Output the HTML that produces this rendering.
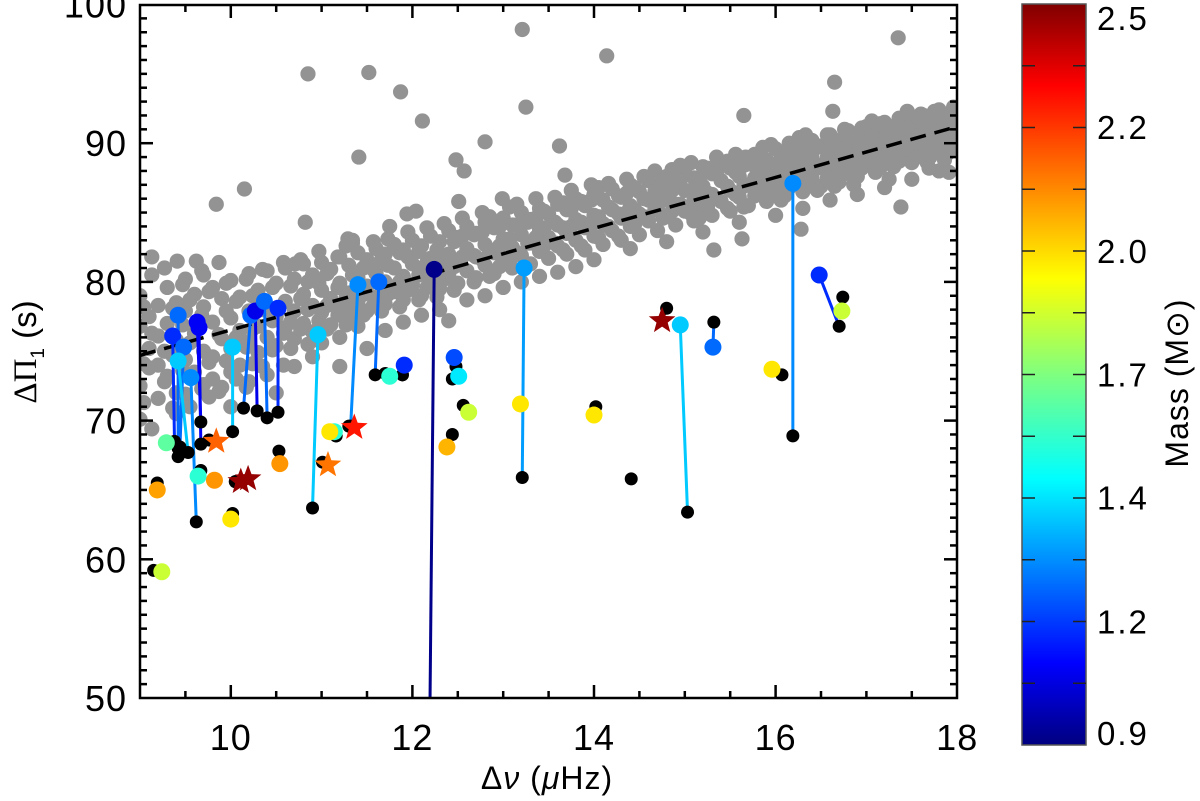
<!DOCTYPE html>
<html><head><meta charset="utf-8">
<style>
html,body{margin:0;padding:0;background:#fff;overflow:hidden;width:1200px;height:801px;}
svg{display:block;font-family:"Liberation Sans","DejaVu Sans",sans-serif;}
</style></head>
<body>
<svg id="chart" width="1200" height="801" viewBox="0 0 1200 801" xmlns="http://www.w3.org/2000/svg">
<defs>
<clipPath id="plotclip"><rect x="140" y="5" width="817" height="693"/></clipPath>
<linearGradient id="jetgrad" x1="0" y1="1" x2="0" y2="0">
<stop offset="0" stop-color="#000080"/><stop offset="0.11" stop-color="#0000ff"/><stop offset="0.36" stop-color="#00ffff"/><stop offset="0.5" stop-color="#7fff7f"/><stop offset="0.63" stop-color="#ffff00"/><stop offset="0.89" stop-color="#ff0000"/><stop offset="1" stop-color="#800000"/>
</linearGradient>
</defs>
<g id="plot" clip-path="url(#plotclip)"></g>
<g id="axes"></g>
<text x="547" y="789" text-anchor="middle" font-size="32" letter-spacing="1">Δ<tspan font-style="italic">ν</tspan> (<tspan font-style="italic">μ</tspan>Hz)</text>
<text transform="translate(36,352) rotate(-90)" text-anchor="middle" font-size="33"><tspan font-family="Liberation Serif,serif">ΔΠ</tspan><tspan font-size="19" dy="8">1</tspan><tspan dy="-8"> (s)</tspan></text>
<g id="cbar">
<rect x="1022" y="4" width="64" height="741" fill="url(#jetgrad)" stroke="#555" stroke-width="1.5"/>
</g>
<text transform="translate(1188,383) rotate(-90)" text-anchor="middle" font-size="32" letter-spacing="1">Mass (M<tspan font-family="DejaVu Sans,sans-serif">⊙</tspan>)</text>
</svg>
<script>
const xTicks=[10,12,14,16,18];
const yTicks=[50,60,70,80,90,100];
const cbTickVals=[0.933,1.2,1.467,1.733,2.0,2.267,2.533];
const cbTickLabels=["0.9","1.2","1.4","1.7","2.0","2.2","2.5"];
const lineX=[9,18];
const lineY=[74.7,91.2];
const greyX=[9.0,9.1,9.2,9.3,9.4,9.5,9.6,9.7,9.8,9.9,10.0,10.1,10.2,10.3,10.4,10.5,10.6,10.7,10.8,10.9,11.0,11.1,11.2,11.3,11.4,11.5,11.6,11.7,11.8,11.9,12.0,12.1,12.2,12.3,12.4,12.5,12.6,12.7,12.8,12.9,13.0,13.1,13.2,13.3,13.4,13.5,13.6,13.7,13.8,13.9,14.0,14.1,14.2,14.3,14.4,14.5,14.6,14.7,14.8,14.9,15.0,15.1,15.2,15.3,15.4,15.5,15.6,15.7,15.8,15.9,16.0,16.1,16.2,16.3,16.4,16.5,16.6,16.7,16.8,16.9,17.0,17.1,17.2,17.3,17.4,17.5,17.6,17.7,17.8,17.9,18.0];
const greyY=[[72.5,76.8,79.0,70.1],[73.8,77.5,75.2],[71.6,76.1,78.3,74.0],[73.2,77.0,79.6],[75.8,72.0,78.5,70.5],[74.4,77.9,80.2,71.9],[76.3,73.5,79.1],[75.0,78.2,72.6,80.5],[77.1,74.6,79.6,73.0],[75.9,78.8,72.4],[77.4,75.2,80.1,73.5,71.0],[76.5,78.9,74.0],[77.9,75.7,80.6,72.8],[76.8,79.4,74.9],[78.2,76.0,80.8,73.3],[77.5,79.9,75.4,72.0],[78.6,76.7,81.0],[77.9,80.2,75.9,73.9],[79.1,77.0,81.3],[78.3,80.5,76.4,74.6],[79.4,77.8,81.4,75.6],[78.8,80.9,76.9],[79.9,78.1,81.8,76.0,73.9],[79.2,81.2,77.5],[80.3,78.6,82.1,76.8],[79.7,81.6,77.9,75.2],[80.6,78.9,82.4],[80.0,82.0,78.4,76.5],[81.0,79.3,82.7],[80.4,82.3,78.7,77.1],[81.3,79.8,83.0],[80.7,82.6,79.0,77.6],[81.7,80.2,83.3],[81.1,82.9,79.5,78.0],[82.0,80.5,83.7,77.2],[81.4,83.2,79.9],[82.4,80.8,84.0,78.7],[81.8,83.5,80.3],[82.7,81.2,84.3,79.0],[82.1,83.9,80.6],[83.1,81.5,84.6,79.6],[82.5,84.1,81.0],[83.4,81.9,85.0,80.0],[82.8,84.5,81.3],[83.8,82.2,85.3,80.4],[83.2,84.9,81.7],[84.1,82.6,85.6,80.7],[83.5,85.2,82.0],[84.5,83.0,86.0,81.1],[83.9,85.5,82.3],[84.8,83.3,86.3,81.6],[84.2,85.9,82.7],[85.2,83.7,86.7],[84.6,86.1,83.0],[85.5,84.0,87.0,82.4],[84.9,86.5,83.4],[85.9,84.4,87.3],[85.2,86.8,83.7],[86.2,84.7,87.6,82.9],[85.6,87.2,84.1],[86.6,85.1,87.9],[85.9,87.5,84.4],[86.9,85.4,88.3,83.6],[86.3,87.8,84.8],[87.3,85.8,88.6],[86.6,88.2,85.1],[87.6,86.1,88.9,84.3],[87.0,88.5,85.5],[88.0,86.5,89.2],[87.3,88.8,85.8],[88.3,86.8,89.6,84.8],[87.7,89.2,86.2],[88.6,87.2,89.9],[88.0,89.5,86.5,85.3],[89.0,87.5,90.2],[88.4,89.8,86.9],[89.3,87.9,90.6,85.9],[88.7,90.2,87.2],[89.7,88.2,90.9],[89.0,90.5,87.6,86.3],[90.0,88.6,91.2],[89.4,90.8,87.9],[90.3,88.9,91.5,86.8],[89.7,91.2,88.3],[90.7,89.3,91.8],[90.1,91.5,88.6,87.4],[91.0,89.6,92.1],[90.4,91.8,89.0],[91.4,90.0,92.4,88.0],[90.8,92.1,89.3],[91.7,90.3]];
const grey2X=[9.04,9.13,9.27,9.36,9.47,9.55,9.68,9.76,9.87,9.95,10.06,10.17,10.24,10.35,10.46,10.58,10.66,10.77,10.85,10.97,11.06,11.18,11.27,11.34,11.46,11.57,11.66,11.73,11.86,11.95,12.07,12.16,12.27,12.35,12.46,12.55,12.68,12.77,12.85,12.96,13.07,13.15,13.27,13.36,13.45,13.57,13.66,13.75,13.86,13.97,14.05,14.16,14.27,14.36,14.45,14.55,14.67,14.76,14.86,14.95,15.07,15.16,15.25,15.35,15.47,15.56,15.65,15.77,15.86,15.95,16.06,16.15,16.26,16.35,16.46,16.57,16.65,16.76,16.86,16.95,17.06,17.15,17.25,17.36,17.45,17.56,17.67,17.75,17.86,17.96];
const grey2Y=[[74.1,78.2,71.3],[69.4,80.5,76.3],[75.0,72.8,81.0],[78.1,70.9,74.7],[73.6,76.9,79.8],[71.0,75.6,78.7],[77.6,72.3,80.8],[74.2,79.3,71.7],[76.2,72.1,81.4],[77.9,74.3,79.9],[73.0,78.6,76.0],[75.3,80.2,72.4],[76.6,79.0,74.1],[78.0,73.9,80.9],[75.1,79.6,77.2],[76.3,81.4,74.0],[79.7,77.1,75.2],[76.6,81.6,78.8],[78.0,80.0,75.5],[77.2,79.9,82.2],[80.6,78.3,76.6],[77.6,81.8,79.6],[78.9,82.6,76.9],[80.5,78.3,83.0],[79.1,81.0,77.6],[80.9,78.3,82.9],[81.6,79.7,77.9],[79.1,83.1,81.2],[80.0,82.1,78.2],[81.8,79.4,83.6],[80.5,82.2,78.7],[81.4,83.9,79.6],[82.3,80.8,78.9],[81.7,84.2,80.2],[82.9,81.1,79.4],[81.8,84.6,83.3],[81.9,83.4,80.0],[83.6,81.6,85.0],[82.2,84.7,80.4],[84.0,82.6,81.1],[83.1,85.4,81.5],[84.1,82.1,85.6],[82.8,84.3,81.2],[84.6,83.2,86.0],[85.1,82.6,83.9],[84.3,86.1,82.8],[83.9,85.7,82.3],[85.3,84.0,86.6],[84.3,85.8,82.6],[85.9,84.1,87.0],[84.7,86.8,83.2],[85.4,87.1,84.0],[84.9,86.2,83.3],[86.4,85.0,87.4],[85.2,86.8,84.2],[86.0,87.6,84.7],[86.5,85.2,88.0],[85.9,87.3,84.6],[86.6,88.1,85.1],[87.3,85.6,88.4],[86.6,84.9,88.6],[87.4,86.0,84.6],[86.4,88.2,85.4],[87.8,86.0,89.0],[86.9,88.7,85.3],[87.9,86.3,89.2],[88.4,86.9,85.4],[87.5,89.2,86.2],[88.6,87.0,89.7],[88.1,86.5,89.9],[89.0,87.4,85.9],[88.3,90.0,86.8],[89.3,87.6,90.4],[88.6,90.1,86.9],[89.7,88.2,86.6],[89.0,90.6,87.5],[89.9,88.5,86.9],[89.4,91.0,87.8],[90.2,88.8,87.0],[89.6,91.1,88.2],[90.5,89.0,91.6],[89.9,91.4,88.2],[90.8,89.4,87.4],[90.3,91.8,88.7],[91.1,89.6,92.3],[90.5,89.0,91.9],[91.3,90.0,88.6],[90.8,92.3,89.4],[91.6,90.1,88.8],[91.2,89.6,92.6]];
const outX=[13.21,17.35,14.14,10.85,11.52,11.87,13.25,12.11,15.65,16.65,16.63,17.63,12.80,13.62,11.41,12.48,12.57,13.68,15.67,16.33,10.15,9.84,12.99,12.51,13.73,10.82,12.04,11.94,11.75,11.29,11.34,17.38,17.69,17.91,15.63,15.32,16.28,9.13,9.41,9.62,10.71];
const outY=[98.2,97.6,96.3,95.0,95.1,93.7,92.6,91.6,92.0,94.4,92.3,92.0,90.1,89.8,89.0,88.8,88.0,87.7,89.0,90.6,86.7,85.6,86.0,85.8,85.6,84.3,85.1,84.9,84.0,83.1,82.8,85.4,88.2,87.9,83.1,82.3,83.8,81.8,81.5,81.5,81.3];
const colX=[9.42,9.36,9.48,9.42,9.63,9.65,9.56,10.02,10.22,10.27,10.37,10.52,10.96,11.40,11.63,12.24,9.29,9.84,9.64,9.82,10.11,10.19,10.54,10.0,9.19,9.24,11.07,11.14,11.09,11.36,11.75,11.91,12.46,12.51,12.62,12.38,13.23,13.19,14.0,14.75,14.95,15.31,15.96,16.19,16.48,16.73];
const colY=[77.6,76.1,75.3,74.3,77.1,76.7,73.1,75.3,77.6,77.9,78.6,78.1,76.2,79.8,80.0,80.9,68.4,68.5,66.0,65.7,65.6,65.8,66.9,62.9,65.0,59.1,66.8,69.2,69.2,69.5,73.2,74.0,74.55,73.2,70.6,68.1,81.0,71.2,70.4,77.2,76.9,75.3,73.7,87.1,80.5,77.9];
const blkX=[9.42,9.38,9.44,9.53,9.67,9.67,9.62,10.02,10.14,10.29,10.40,10.52,10.90,11.32,11.59,12.15,9.42,9.76,9.67,9.82,10.05,10.05,10.53,10.02,9.19,9.15,11.01,11.16,11.16,11.30,11.70,11.89,12.48,12.44,12.56,12.44,13.21,13.19,14.02,14.80,15.03,15.32,16.07,16.19,16.70,16.74];
const blkY=[67.4,68.5,68.1,67.7,69.9,68.3,62.7,69.2,70.9,70.7,70.2,70.6,63.7,69.6,73.3,20,68.0,68.6,66.4,65.7,65.6,65.6,67.8,63.3,65.5,59.2,67.0,68.9,68.9,69.6,73.4,73.3,73.9,73.0,71.1,69.0,65.9,71.2,71.0,78.1,63.4,77.1,73.3,68.9,76.8,78.9];
const masses=[1.3,1.2,1.3,1.45,1.12,1.12,1.35,1.45,1.3,1.1,1.3,1.2,1.45,1.35,1.3,0.95,1.68,2.18,1.6,2.1,2.5,2.5,2.1,1.97,2.08,1.85,2.15,1.6,1.97,2.3,1.6,1.2,1.25,1.5,1.85,2.05,1.38,1.97,1.97,2.5,1.45,1.3,1.97,1.35,1.2,1.85];
const isStar=[0,0,0,0,0,0,0,0,0,0,0,0,0,0,0,0,0,1,0,0,1,1,0,0,0,0,1,0,0,1,0,0,0,0,0,0,0,0,0,1,0,0,0,0,0,0];
const loneX=[14.41,11.89];
const loneY=[65.8,73.3];

const NS="http://www.w3.org/2000/svg";
const X=v=>140+(v-9)*90.8;
const Y=v=>698-(v-50)*13.87;
const CB=v=>745-(v-0.933)/(2.533-0.933)*741;
function mk(tag,attrs,parent){const e=document.createElementNS(NS,tag);for(const k in attrs)e.setAttribute(k,attrs[k]);parent.appendChild(e);return e;}
function jet(m){let t=(m-0.933)/1.6;t=Math.max(0,Math.min(1,t));
 const r=Math.max(0,Math.min(1,1.5-Math.abs(4*t-3))),g=Math.max(0,Math.min(1,1.5-Math.abs(4*t-2))),b=Math.max(0,Math.min(1,1.5-Math.abs(4*t-1)));
 return `rgb(${Math.round(r*255)},${Math.round(g*255)},${Math.round(b*255)})`;}
function star(cx,cy,R){const r=R*0.42;let p=[];for(let i=0;i<10;i++){const a=-Math.PI/2+i*Math.PI/5;const rr=i%2?r:R;p.push((cx+rr*Math.cos(a)).toFixed(1)+","+(cy+rr*Math.sin(a)).toFixed(1));}return p.join(" ");}

const plot=document.getElementById('plot');
for(let i=0;i<greyX.length;i++){for(const yv of greyY[i]){
 const c=mk('circle',{cx:X(greyX[i]),cy:Y(yv),r:7.6,fill:'#939393'},plot);
 
 
}}
for(let i=0;i<grey2X.length;i++){for(const yv of grey2Y[i]){
 const c=mk('circle',{cx:X(grey2X[i]),cy:Y(yv),r:7.6,fill:'#939393'},plot);
 
 
}}
for(let i=0;i<outX.length;i++){
 const c=mk('circle',{cx:X(outX[i]),cy:Y(outY[i]),r:7.6,fill:'#939393'},plot);
 
 
}
const fit=mk('line',{x1:X(lineX[0]),y1:Y(lineY[0]),x2:X(lineX[1]),y2:Y(lineY[1]),stroke:'#000','stroke-width':3.5,'stroke-dasharray':'16 9'},plot);


for(let i=0;i<colX.length;i++){
 const l=mk('line',{x1:X(colX[i]),y1:Y(colY[i]),x2:X(blkX[i]),y2:Y(blkY[i]),stroke:jet(masses[i]),'stroke-width':3},plot);
 
 
}
for(let i=0;i<blkX.length;i++){
 const c=mk('circle',{cx:X(blkX[i]),cy:Y(blkY[i]),r:6.5,fill:'#000'},plot);
 
 
}
for(let i=0;i<loneX.length;i++){
 const c=mk('circle',{cx:X(loneX[i]),cy:Y(loneY[i]),r:6.5,fill:'#000'},plot);
 
 
}
for(let i=0;i<colX.length;i++){
 let e;
 if(isStar[i]){e=mk('polygon',{points:star(X(colX[i]),Y(colY[i]),14),fill:jet(masses[i])},plot);}
 else{e=mk('circle',{cx:X(colX[i]),cy:Y(colY[i]),r:8.5,fill:jet(masses[i])},plot);}
 
 
}

const axes=document.getElementById('axes');
const fr=mk('rect',{x:140,y:5,width:817,height:693,fill:'none',stroke:'#000','stroke-width':2.5},axes);


for(let v=9.5;v<18;v+=0.5){
 const major=xTicks.indexOf(v)>=0;const L=major?13:7;
 mk('line',{x1:X(v),y1:698,x2:X(v),y2:698-L,stroke:'#000','stroke-width':2.5},axes);
 mk('line',{x1:X(v),y1:5,x2:X(v),y2:5+L,stroke:'#000','stroke-width':2.5},axes);
}
for(let v=51;v<100;v++){
 const major=v%10===0;const L=major?13:7;
 mk('line',{x1:140,y1:Y(v),x2:140+L,y2:Y(v),stroke:'#000','stroke-width':2.5},axes);
 mk('line',{x1:957,y1:Y(v),x2:957-L,y2:Y(v),stroke:'#000','stroke-width':2.5},axes);
}
for(const v of xTicks){
 const t=mk('text',{x:X(v),y:750,'text-anchor':'middle','font-size':36,'letter-spacing':'1'},axes);t.textContent=v;
 
 
}
for(const v of yTicks){
 const t=mk('text',{x:127,y:Y(v)+13,'text-anchor':'end','font-size':36,'letter-spacing':'1'},axes);t.textContent=v;
 
 
}
const cb=document.getElementById('cbar');
for(let k=1;k<12;k++){const yy=4+k*741/12;
 mk('line',{x1:1022,y1:yy,x2:1035,y2:yy,stroke:'#222','stroke-width':1.5},cb);
 mk('line',{x1:1086,y1:yy,x2:1073,y2:yy,stroke:'#222','stroke-width':1.5},cb);
}
for(let i=0;i<cbTickVals.length;i++){
 const yy=Math.max(18,Math.min(733,CB(cbTickVals[i])));
 const t=mk('text',{x:1097,y:yy+12,'font-size':33,'letter-spacing':'2'},cb);t.textContent=cbTickLabels[i];
 
 
}
</script>
</body></html>
